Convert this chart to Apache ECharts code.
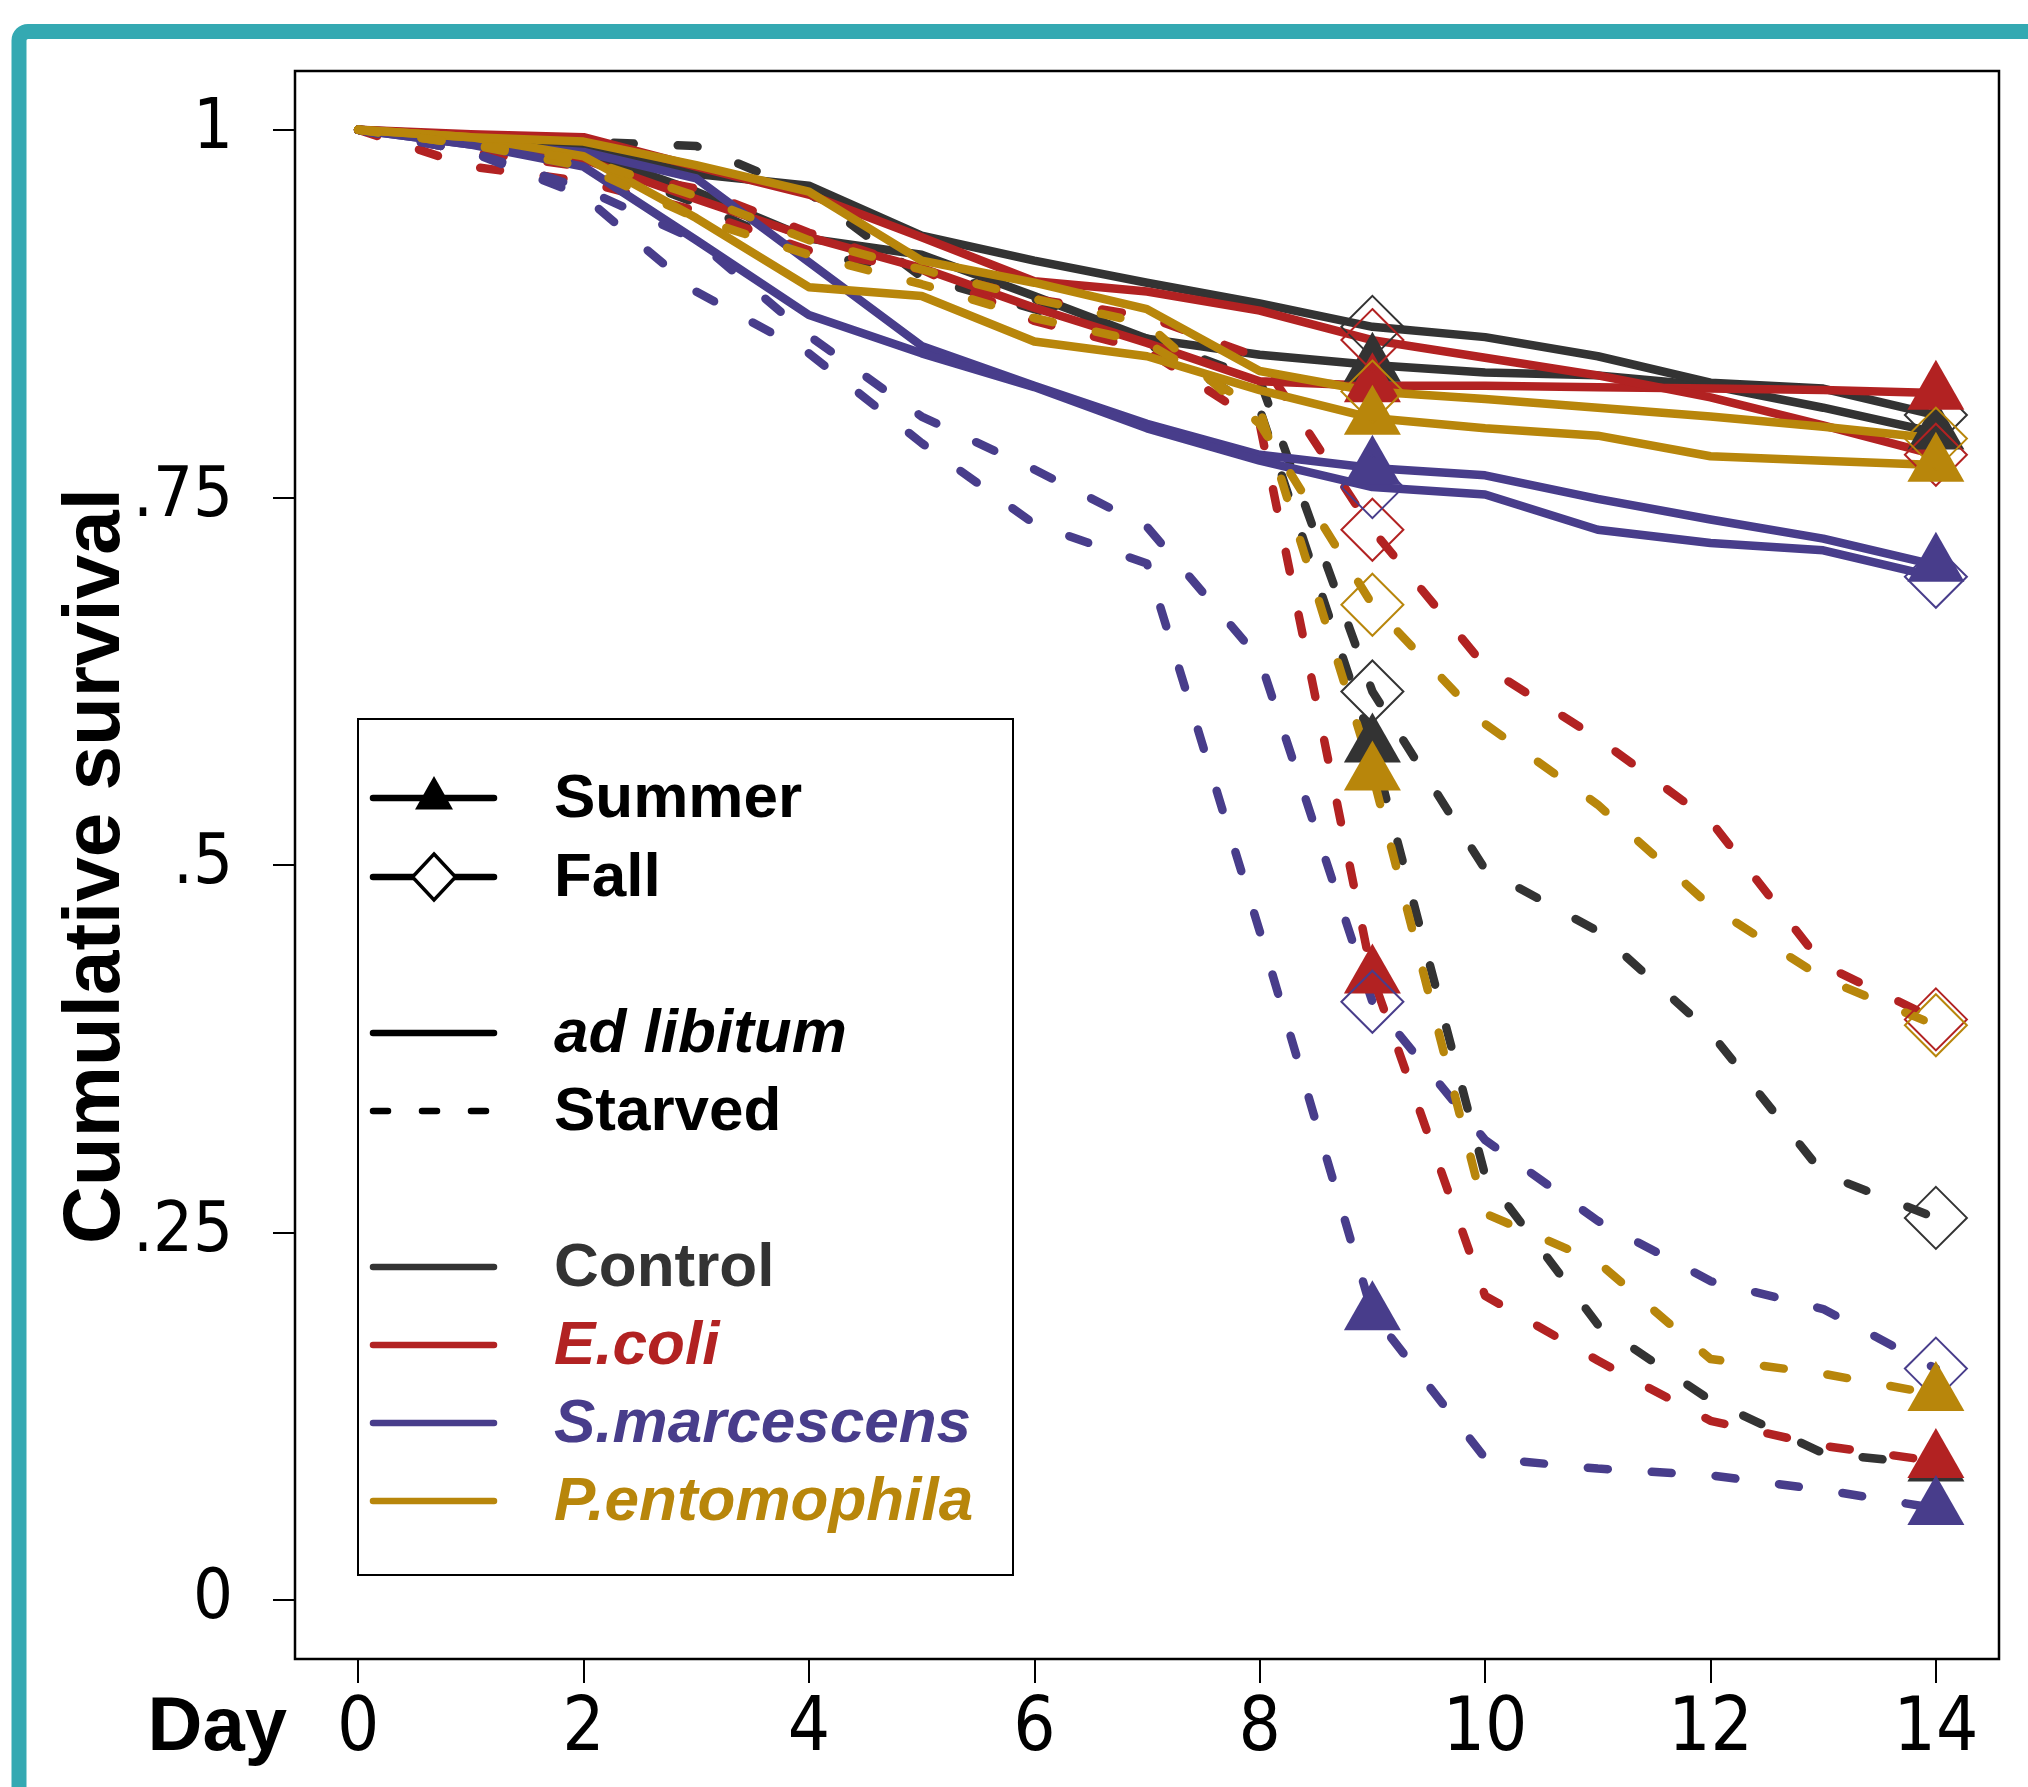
<!DOCTYPE html>
<html>
<head>
<meta charset="utf-8">
<script src="https://cdn.jsdelivr.net/npm/echarts@6/dist/echarts.min.js"></script>
<style>
html,body{margin:0;padding:0;background:#ffffff;}
#chart{width:2028px;height:1787px;}
</style>
</head>
<body>
<div id="chart"></div>
<script>
// ---------------- data ----------------
const days = [0,1,2,3,4,5,6,7,8,9,10,11,12,13,14];
const markerDays = [9,14];
const xTicks = [0,2,4,6,8,10,12,14];
const xTickLabels = ['0','2','4','6','8','10','12','14'];
const yTicks = [0,0.25,0.5,0.75,1];
const yTickLabels = ['0','.25','.5','.75','1'];
const treatments = ['Control','E.coli','S.marcescens','P.entomophila'];
const seasons = ['Summer','Fall'];
const diets = ['ad libitum','Starved'];

// ad libitum (solid)
const controlSummerFed  = [1,0.995,0.985,0.958,0.926,0.915,0.887,0.858,0.847,0.840,0.835,0.833,0.826,0.811,0.794];
const controlFallFed    = [1,0.996,0.988,0.970,0.962,0.928,0.911,0.896,0.882,0.866,0.859,0.846,0.828,0.824,0.806];
const ecoliSummerFed    = [1,0.993,0.980,0.953,0.927,0.906,0.879,0.855,0.829,0.826,0.826,0.825,0.824,0.823,0.821];
const ecoliFallFed      = [1,0.997,0.995,0.975,0.956,0.927,0.897,0.890,0.877,0.857,0.845,0.833,0.818,0.799,0.779];
const serratiaSummerFed = [1,0.990,0.985,0.967,0.910,0.853,0.826,0.800,0.779,0.770,0.765,0.749,0.735,0.722,0.704];
const serratiaFallFed   = [1,0.990,0.975,0.925,0.874,0.848,0.825,0.797,0.775,0.757,0.752,0.728,0.719,0.714,0.696];
const pentoSummerFed    = [1,0.995,0.982,0.940,0.893,0.887,0.856,0.846,0.823,0.804,0.797,0.792,0.778,0.775,0.772];
const pentoFallFed      = [1,0.995,0.992,0.976,0.958,0.911,0.896,0.878,0.836,0.822,0.817,0.811,0.805,0.798,0.790];

// starved (dashed)
const controlSummerStarved  = [1,0.990,0.980,0.950,0.915,0.905,0.885,0.855,0.810,0.581,0.289,0.1875,0.136,0.100,0.092];
const controlFallStarved    = [1,0.995,0.992,0.989,0.957,0.900,0.878,0.858,0.830,0.618,0.497,0.455,0.386,0.290,0.260];
const ecoliSummerStarved    = [1,0.975,0.965,0.945,0.918,0.905,0.870,0.850,0.800,0.424,0.207,0.163,0.122,0.105,0.0945];
const ecoliFallStarved      = [1,0.985,0.975,0.960,0.930,0.905,0.885,0.873,0.845,0.728,0.635,0.586,0.530,0.432,0.395];
const serratiaSummerStarved = [1,0.985,0.955,0.890,0.848,0.787,0.732,0.705,0.455,0.195,0.0966,0.0895,0.0849,0.075,0.0625];
const serratiaFallStarved   = [1,0.985,0.960,0.925,0.860,0.805,0.769,0.730,0.640,0.407,0.313,0.258,0.217,0.198,0.1575];
const pentoSummerStarved    = [1,0.990,0.975,0.940,0.915,0.895,0.872,0.855,0.810,0.562,0.263,0.230,0.164,0.154,0.140];
const pentoFallStarved      = [1,0.990,0.980,0.955,0.925,0.905,0.885,0.868,0.800,0.677,0.596,0.541,0.472,0.423,0.391];

// ---------------- styles ----------------
const palette = {
  'Control':'#333333',
  'E.coli':'#B22222',
  'S.marcescens':'#483D8B',
  'P.entomophila':'#B8860B'
};
const seriesTable = {
  'Control':       {Summer:{fed:controlSummerFed, starved:controlSummerStarved}, Fall:{fed:controlFallFed, starved:controlFallStarved}},
  'E.coli':        {Summer:{fed:ecoliSummerFed, starved:ecoliSummerStarved}, Fall:{fed:ecoliFallFed, starved:ecoliFallStarved}},
  'S.marcescens':  {Summer:{fed:serratiaSummerFed, starved:serratiaSummerStarved}, Fall:{fed:serratiaFallFed, starved:serratiaFallStarved}},
  'P.entomophila': {Summer:{fed:pentoSummerFed, starved:pentoSummerStarved}, Fall:{fed:pentoFallFed, starved:pentoFallStarved}}
};

const LINE_W = 8.5;
const DASH = [20, 44];
const tickFont = "'Liberation Sans Narrow','DejaVu Sans Condensed','Liberation Sans',sans-serif";
const boldFont = "'Liberation Sans',Arial,sans-serif";

const series = [];
treatments.forEach(function (t) {
  const color = palette[t];
  ['fed','starved'].forEach(function (diet) {
    seasons.forEach(function (s) {
      const vals = seriesTable[t][s][diet];
      const isSummer = s === 'Summer';
      series.push({
        name: t + ' ' + s + ' ' + (diet === 'fed' ? diets[0] : diets[1]),
        type: 'line',
        data: days.map(function (d, i) { return [d, vals[i]]; }),
        showSymbol: true,
        showAllSymbol: true,
        symbol: function (value) {
          return markerDays.indexOf(value[0]) >= 0 ? (isSummer ? 'triangle' : 'diamond') : 'none';
        },
        symbolSize: isSummer ? [57, 50] : [62, 62],
        symbolOffset: isSummer ? [0, -8.3] : [0, 0],
        itemStyle: isSummer
          ? {color: color, borderWidth: 0}
          : {color: 'rgba(0,0,0,0)', borderColor: color, borderWidth: 2},
        lineStyle: {
          color: color,
          width: LINE_W,
          type: diet === 'fed' ? 'solid' : DASH,
          cap: 'round',
          join: 'round'
        },
        emphasis: {disabled: true},
        silent: true,
        clip: true
      });
    });
  });
});

// ---------------- legend (drawn) ----------------
const legendX1 = 373, legendX2 = 494, legendMarkX = 434, legendTextX = 554;
const legendRows = [
  {text:'Summer', y:798, kind:'triangle', color:'#000', italic:false},
  {text:'Fall', y:877, kind:'diamond', color:'#000', italic:false},
  {text:'ad libitum', y:1033, kind:'solid', color:'#000', italic:true},
  {text:'Starved', y:1111, kind:'dashed', color:'#000', italic:false},
  {text:'Control', y:1267, kind:'solid', color:palette['Control'], italic:false},
  {text:'E.coli', y:1345, kind:'solid', color:palette['E.coli'], italic:true},
  {text:'S.marcescens', y:1423, kind:'solid', color:palette['S.marcescens'], italic:true},
  {text:'P.entomophila', y:1501, kind:'solid', color:palette['P.entomophila'], italic:true}
];
const legendEls = [{
  type:'rect', shape:{x:358, y:719, width:655, height:856},
  style:{fill:'#ffffff', stroke:'#000000', lineWidth:2}
}];
legendRows.forEach(function (r) {
  legendEls.push({
    type:'line', shape:{x1:legendX1, y1:r.y, x2:legendX2, y2:r.y},
    style:{stroke:r.color, lineWidth:6.5, lineCap:'round', lineDash: r.kind === 'dashed' ? [15, 34] : null}
  });
  if (r.kind === 'triangle') {
    legendEls.push({type:'polygon', shape:{points:[[legendMarkX-19, r.y+11.5],[legendMarkX+19, r.y+11.5],[legendMarkX, r.y-22]]},
      style:{fill:'#000'}});
  }
  if (r.kind === 'diamond') {
    legendEls.push({type:'polygon', shape:{points:[[legendMarkX, r.y-23],[legendMarkX+21.5, r.y],[legendMarkX, r.y+23],[legendMarkX-21.5, r.y]]},
      style:{fill:'#fff', stroke:'#000', lineWidth:3.5}});
  }
  legendEls.push({
    type:'text', x:legendTextX, y:r.y + 2,
    style:{text:r.text, fill:r.color, fontSize:62, fontWeight:'bold', fontStyle: r.italic ? 'italic' : 'normal',
      fontFamily:boldFont, align:'left', verticalAlign:'middle'}
  });
});

const chart = echarts.init(document.getElementById('chart'), null, {renderer:'canvas', width:2028, height:1787});
chart.setOption({
  animation: false,
  backgroundColor: '#ffffff',
  grid: {left:295, top:71, right:29, bottom:128, show:true, borderColor:'#000', borderWidth:2.5, backgroundColor:'transparent'},
  xAxis: {
    type:'value', min:-0.56, max:14.56,
    splitLine:{show:false},
    axisLine:{show:false, onZero:false},
    axisTick:{show:true, inside:false, length:24, lineStyle:{color:'#000', width:2}, customValues:xTicks},
    axisLabel:{customValues:xTicks, margin:35, color:'#000', fontSize:74, fontFamily:tickFont,
      formatter:function (v) { const i = xTicks.indexOf(v); return i >= 0 ? xTickLabels[i] : ''; }}
  },
  yAxis: {
    type:'value', min:-0.04, max:1.04,
    splitLine:{show:false},
    axisLine:{show:false, onZero:false},
    axisTick:{show:true, inside:false, length:22, lineStyle:{color:'#000', width:2}, customValues:yTicks},
    axisLabel:{customValues:yTicks, margin:62, color:'#000', fontSize:70, fontFamily:tickFont,
      formatter:function (v) {
        let best = 0;
        yTicks.forEach(function (t, i) { if (Math.abs(t - v) < Math.abs(yTicks[best] - v)) best = i; });
        return yTickLabels[best];
      }}
  },
  series: series,
  graphic: [
    {type:'group', z:50, silent:true, children: legendEls},
    {type:'text', z:50, silent:true, x:97, y:866, rotation:Math.PI/2,
      style:{text:'Cumulative survival', fill:'#000', fontSize:80, fontWeight:'bold', fontFamily:boldFont, align:'center', verticalAlign:'middle'}},
    {type:'text', z:50, silent:true, x:287, y:1729,
      style:{text:'Day', fill:'#000', fontSize:76, fontWeight:'bold', fontFamily:boldFont, align:'right', verticalAlign:'middle'}},
    {type:'rect', z:60, silent:true, shape:{x:19, y:31.5, width:2200, height:2000, r:9},
      style:{fill:'none', stroke:'#34A9B2', lineWidth:15}}
  ]
});
</script>
</body>
</html>
